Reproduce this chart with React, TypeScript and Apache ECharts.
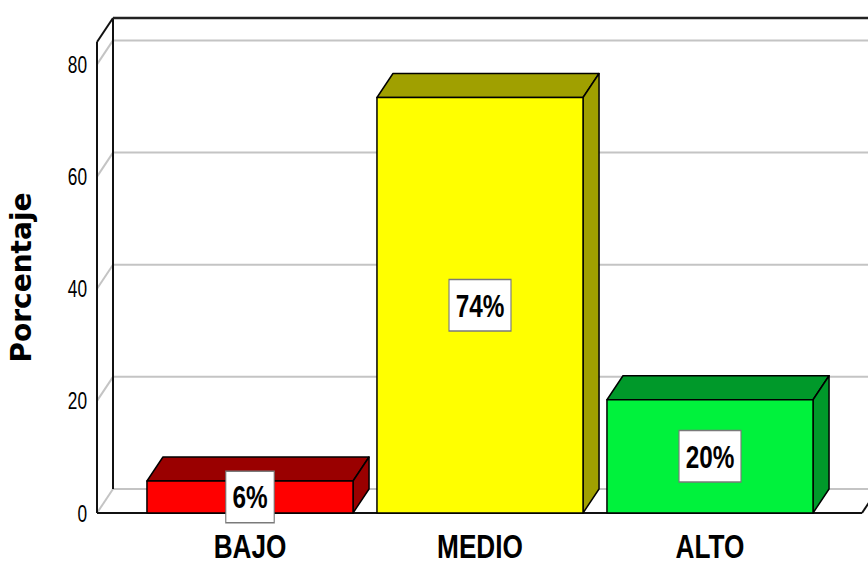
import React, { useEffect, useRef } from "react";
import * as echarts from "echarts";

const categories = ["BAJO", "MEDIO", "ALTO"];
const percentages = [5.7, 74.1, 20.2];
const yTicks = [0, 20, 40, 60, 80];
const yMax = 84;
const frontColors = ["#ff0000", "#ffff00", "#00f23c"];
const darkColors = ["#9a0000", "#a0a000", "#00992a"];

const DX = 16;
const DY = -24;
const SANS = "'Liberation Sans', Arial, sans-serif";

export default function App() {
  const ref = useRef<HTMLDivElement>(null);
  useEffect(() => {
    if (!ref.current) return;
    const chart = echarts.init(ref.current, null, { renderer: "svg" });
    const option: any = {
      animation: false,
      backgroundColor: "#ffffff",
      grid: { left: 135, right: 43, top: 42, bottom: 50, containLabel: false, outerBoundsMode: "none" },
      xAxis: {
        type: "category",
        data: categories,
        axisLine: { show: false },
        axisTick: { show: false },
        axisLabel: { show: false },
        splitLine: { show: false },
      },
      yAxis: {
        type: "value",
        min: 0,
        max: yMax,
        interval: 20,
        name: "Porcentaje",
        nameLocation: "middle",
        nameGap: 100,
        nameTextStyle: {
          color: "#000",
          fontFamily: "'DejaVu Sans', sans-serif",
          fontWeight: "bold",
          fontSize: 28,
        },
        axisLine: { show: false },
        axisTick: { show: false },
        splitLine: { show: false },
        axisLabel: { show: false },
      },
      series: [
        {
          type: "custom",
          z: 1,
          silent: true,
          data: [[0]],
          renderItem: (params: any, api: any) => {
            const cs = params.coordSys;
            const W = api.getWidth();
            const xf = cs.x - 38;
            const xb = xf + DX;
            const y0 = api.coord([0, 0])[1];
            const yTop = api.coord([0, yMax])[1];
            const children: any[] = [];
            const gray = { stroke: "#c4c4c4", lineWidth: 2 };
            yTicks.forEach((t) => {
              const y = api.coord([0, t])[1];
              children.push({
                type: "line",
                shape: { x1: xb, y1: y + DY, x2: W + 20, y2: y + DY },
                style: gray,
              });
              children.push({
                type: "line",
                shape: { x1: xf, y1: y, x2: xb, y2: y + DY },
                style: gray,
              });
              children.push({
                type: "text",
                x: xf - 10,
                y: y,
                scaleX: 0.72,
                style: {
                  text: String(t),
                  x: 0,
                  y: 0,
                  fill: "#000",
                  font: "24px " + SANS,
                  align: "right",
                  verticalAlign: "middle",
                },
              });
            });
            const blk = { stroke: "#111", lineWidth: 2 };
            children.push({ type: "line", shape: { x1: xf, y1: yTop, x2: xf, y2: y0 }, style: blk });
            children.push({ type: "line", shape: { x1: xb, y1: yTop + DY, x2: xb, y2: y0 + DY }, style: blk });
            children.push({ type: "line", shape: { x1: xf, y1: yTop, x2: xb, y2: yTop + DY }, style: blk });
            children.push({
              type: "line",
              shape: { x1: xb, y1: yTop + DY, x2: W + 20, y2: yTop + DY },
              style: { stroke: "#222", lineWidth: 2.5 },
            });
            children.push({ type: "line", shape: { x1: xf, y1: y0, x2: W - 6, y2: y0 }, style: blk });
            children.push({
              type: "line",
              shape: { x1: W - 6, y1: y0, x2: W - 6 + DX, y2: y0 + DY },
              style: blk,
            });
            return { type: "group", children };
          },
        },
        {
          type: "custom",
          z: 2,
          data: percentages.map((v, i) => [i, v]),
          renderItem: (params: any, api: any) => {
            const i = api.value(0);
            const v = api.value(1);
            const top = api.coord([i, v]);
            const base = api.coord([i, 0]);
            const w = api.size([1, 0])[0] * 0.896;
            const x0 = top[0] - w / 2;
            const x1 = x0 + w;
            const yt = top[1];
            const yb = base[1];
            const edge = { stroke: "#000", lineWidth: 1.5, lineJoin: "round" };
            return {
              type: "group",
              children: [
                {
                  type: "polygon",
                  shape: { points: [[x0, yt], [x1, yt], [x1 + DX, yt + DY], [x0 + DX, yt + DY]] },
                  style: { fill: darkColors[i], ...edge },
                },
                {
                  type: "polygon",
                  shape: { points: [[x1, yt], [x1 + DX, yt + DY], [x1 + DX, yb + DY], [x1, yb]] },
                  style: { fill: darkColors[i], ...edge },
                },
                {
                  type: "rect",
                  shape: { x: x0, y: yt, width: w, height: yb - yt },
                  style: { fill: frontColors[i], ...edge },
                },
                {
                  type: "text",
                  x: top[0],
                  y: (yt + yb) / 2,
                  scaleX: 0.76,
                  style: {
                    text: Math.round(v) + "%",
                    x: 0,
                    y: 0,
                    fill: "#000",
                    font: "bold 32px " + SANS,
                    align: "center",
                    verticalAlign: "middle",
                    lineHeight: 34,
                    backgroundColor: "#ffffff",
                    borderColor: "#7a7a7a",
                    borderWidth: 1.5,
                    padding: [8, 8, 8, 8],
                  },
                },
                {
                  type: "text",
                  x: top[0],
                  y: yb + 33,
                  scaleX: 0.77,
                  style: {
                    text: categories[i],
                    x: 0,
                    y: 0,
                    fill: "#000",
                    font: "bold 34px " + SANS,
                    align: "center",
                    verticalAlign: "middle",
                  },
                },
              ],
            };
          },
        },
      ],
    };
    chart.setOption(option);
    return () => chart.dispose();
  }, []);
  return <div ref={ref} style={{ width: 868, height: 563, position: "absolute", left: 0, top: 0 }} />;
}
